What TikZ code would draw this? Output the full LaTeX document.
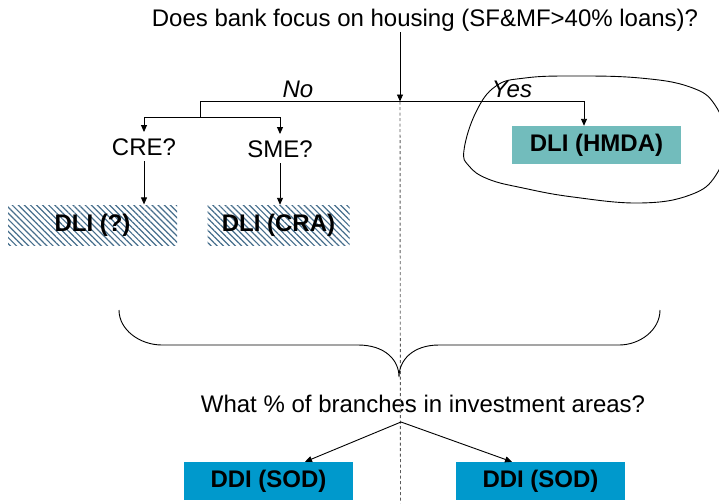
\documentclass[tikz,border=0pt]{standalone}
\usepackage{fontspec}
\setmainfont{Liberation Sans}
\usetikzlibrary{arrows.meta,patterns.meta}
\definecolor{tealbox}{RGB}{114,188,188}
\definecolor{ddiblue}{RGB}{0,153,204}
\definecolor{hatchcol}{RGB}{70,110,140}
\definecolor{dashgray}{RGB}{90,90,90}
\begin{document}
\begin{tikzpicture}[x=1pt,y=-1pt,
  txt/.style={font=\fontsize{24}{28}\selectfont, inner sep=0pt, anchor=base},
  q/.style={txt, inner ysep=6pt},
  lbl/.style={txt, font=\fontsize{24}{28}\selectfont\itshape},
  box/.style={font=\fontsize{24}{28}\selectfont\bfseries, inner sep=0pt, minimum height=38pt, text height=17pt, text depth=4pt},
  hmdabox/.style={box, fill=tealbox, minimum width=169pt},
  ddibox/.style={box, fill=ddiblue, minimum width=169pt},
  hatchbox/.style={box, minimum height=40pt, pattern={Lines[angle=-45,distance=4.3pt,line width=1.2pt]}, pattern color=hatchcol},
  ln/.style={line width=0.9pt, black},
  arr/.style={ln, -{Triangle[length=7pt,width=6pt]}},
  divider/.style={line width=0.9pt, dashgray, dash pattern=on 3pt off 2.5pt},
]
\useasboundingbox (0,0) rectangle (719,503);

% nodes
\node[txt] (q1) at (425,27) {Does bank focus on housing (SF\&MF>40\% loans)?};
\node[lbl] (no) at (298,97) {No};
\node[lbl] (yes) at (512,97) {Yes};
\node[q] (cre) at (144,155) {CRE?};
\node[q] (sme) at (280,157) {SME?};
\node[hatchbox, minimum width=169pt] (dliq) at (92.5,225) {DLI (?)};
\node[hatchbox, minimum width=142pt] (dlicra) at (278.5,225) {DLI (CRA)};
\node[hmdabox] (hmda) at (596.5,145) {DLI (HMDA)};
\node[txt] (q2) at (423,412) {What \% of branches in investment areas?};
\node[ddibox] (ddi1) at (268.5,481) {DDI (SOD)};
\node[ddibox] (ddi2) at (540.5,481) {DDI (SOD)};

\coordinate (hsplit) at (400,101.5);
\coordinate (hl) at (200,101.5);
\coordinate (hr) at (584,101.5);
\coordinate (cs) at (200,117);
\coordinate (sp2) at (401,422);
\coordinate (divend) at (400.5,503);

% divider
\draw[divider] (hsplit) -- (divend);

% connectors
\draw[arr] (q1.south -| hsplit) -- (hsplit);
\draw[arr] (hl) -- (hr) -- (hr |- hmda.north);
\draw[ln] (hl) -- (cs);
\draw[arr] (cs) -| (cre.north);
\draw[arr] (cs) -| (sme.north);
\draw[arr] (cre.south) -- (cre.south |- dliq.north);
\draw[arr] (sme.south) -- (sme.south |- dlicra.north);
\draw[arr] (sp2) -- ([xshift=36.5pt]ddi1.north);
\draw[arr] (sp2) -- ([xshift=-28.5pt]ddi2.north);

% blob around HMDA
\draw[ln] plot[smooth cycle, tension=0.7] coordinates {(464,150) (476,112) (496,86) (525,78) (573,76) (640,78) (690,87) (715,105) (726,140) (716,175) (690,195) (640,203) (573,197) (523,188) (488,179) (469,166)};

% brace
\draw[ln] (119,310) .. controls (119,330) and (140,345) .. (162,345) -- (358,345)
  .. controls (385,345) and (399,360) .. (399,377)
  .. controls (399,360) and (413,345) .. (439,345) -- (619,345)
  .. controls (640,345) and (660,330) .. (660,310);
\end{tikzpicture}
\end{document}
